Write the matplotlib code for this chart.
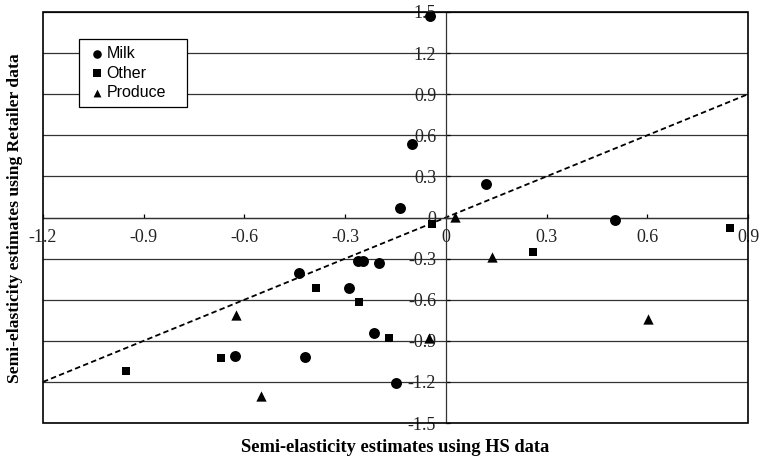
import matplotlib
matplotlib.use("Agg")
import matplotlib.pyplot as plt
from matplotlib.patches import Rectangle

# Data (HS estimate, Retailer estimate)
milk_x = [-0.046, -0.102, -0.137, 0.119, 0.504, -0.438, -0.261, -0.246, -0.200, -0.289, -0.214, -0.419, -0.150, -0.628]
milk_y = [1.47, 0.54, 0.067, 0.242, -0.018, -0.407, -0.32, -0.32, -0.334, -0.517, -0.845, -1.02, -1.21, -1.013]

other_x = [-0.041, -0.388, -0.258, -0.169, -0.669, -0.952, 0.260, 0.846]
other_y = [-0.047, -0.517, -0.614, -0.882, -1.028, -1.123, -0.249, -0.079]

produce_x = [0.027, 0.138, 0.603, -0.050, -0.626, -0.552]
produce_y = [0.005, -0.29, -0.74, -0.882, -0.71, -1.303]

line_x = [-1.2, 0.9]
line_y = [-1.2, 0.9]

x_ticks = [-1.2, -0.9, -0.6, -0.3, 0, 0.3, 0.6, 0.9]
x_ticklabels = ["-1.2", "-0.9", "-0.6", "-0.3", "0", "0.3", "0.6", "0.9"]
y_ticks = [-1.5, -1.2, -0.9, -0.6, -0.3, 0, 0.3, 0.6, 0.9, 1.2, 1.5]
y_ticklabels = ["-1.5", "-1.2", "-0.9", "-0.6", "-0.3", "0", "0.3", "0.6", "0.9", "1.2", "1.5"]

serif = "Liberation Serif"
sans = "Liberation Sans"

fig = plt.figure(figsize=(7.59, 4.58), dpi=100)
ax = fig.add_axes([43/759, 1-423/458, (748-43)/759, (423-12)/458])

ax.set_xlim(-1.2, 0.9)
ax.set_ylim(-1.5, 1.5)

# gridlines
for yv in y_ticks:
    ax.axhline(yv, color="#333333", lw=0.9, zorder=1)

ax.plot(line_x, line_y, color="black", lw=1.3, ls=(0, (3, 1.8)), zorder=2)

ax.scatter(milk_x, milk_y, marker="o", s=62, color="black", zorder=3, label="Milk", linewidths=0)
ax.scatter(other_x, other_y, marker="s", s=32, color="black", zorder=3, label="Other", linewidths=0)
ax.scatter(produce_x, produce_y, marker="^", s=55, color="black", zorder=3, label="Produce", linewidths=0)

# spines through zero
ax.spines["left"].set_position(("data", 0))
ax.spines["bottom"].set_position(("data", 0))
for s in ["left", "bottom"]:
    ax.spines[s].set_color("#333333")
    ax.spines[s].set_linewidth(0.9)
ax.spines["top"].set_visible(False)
ax.spines["right"].set_visible(False)
ax.add_patch(Rectangle((0, 0), 1, 1, transform=ax.transAxes, fill=False,
                       edgecolor="black", lw=1.2, clip_on=False, zorder=5))

ax.set_xticks(x_ticks)
ax.set_xticklabels(x_ticklabels)
ax.set_yticks(y_ticks)
ax.set_yticklabels(y_ticklabels)
ax.tick_params(axis="x", direction="in", length=3, width=0.9, pad=8, labelsize=13)
ax.tick_params(axis="y", direction="in", length=3, width=0.9, pad=7, labelsize=13)
for lab in ax.get_xticklabels() + ax.get_yticklabels():
    lab.set_fontfamily(serif)
    lab.set_color("#222222")

fig.text(395/759, 1-447/458, "Semi-elasticity estimates using HS data", ha="center", va="center",
         fontfamily=serif, fontweight="bold", fontsize=13.3)
fig.text(15/759, 1-218/458, "Semi-elasticity estimates using Retailer data", ha="center", va="center",
         rotation=90, fontfamily=serif, fontweight="bold", fontsize=12.6)

leg_top = 1 - (39 - 12) / 411
leg_h = 68 / 411
leg = ax.legend(loc="upper left", bbox_to_anchor=((79-43)/705, leg_top - leg_h, 108/705, leg_h),
                mode="expand", frameon=True, fancybox=False, edgecolor="black", framealpha=1,
                prop={"family": sans, "size": 11.5}, handletextpad=-0.12, handlelength=1.38,
                borderpad=0.45, labelspacing=0.27, scatterpoints=1, borderaxespad=0)
leg.get_frame().set_linewidth(0.9)
leg.legend_handles[0].set_sizes([38])
leg.legend_handles[1].set_sizes([28])
leg.legend_handles[2].set_sizes([32])
leg.set_zorder(6)

fig.savefig("out.png", dpi=100)
